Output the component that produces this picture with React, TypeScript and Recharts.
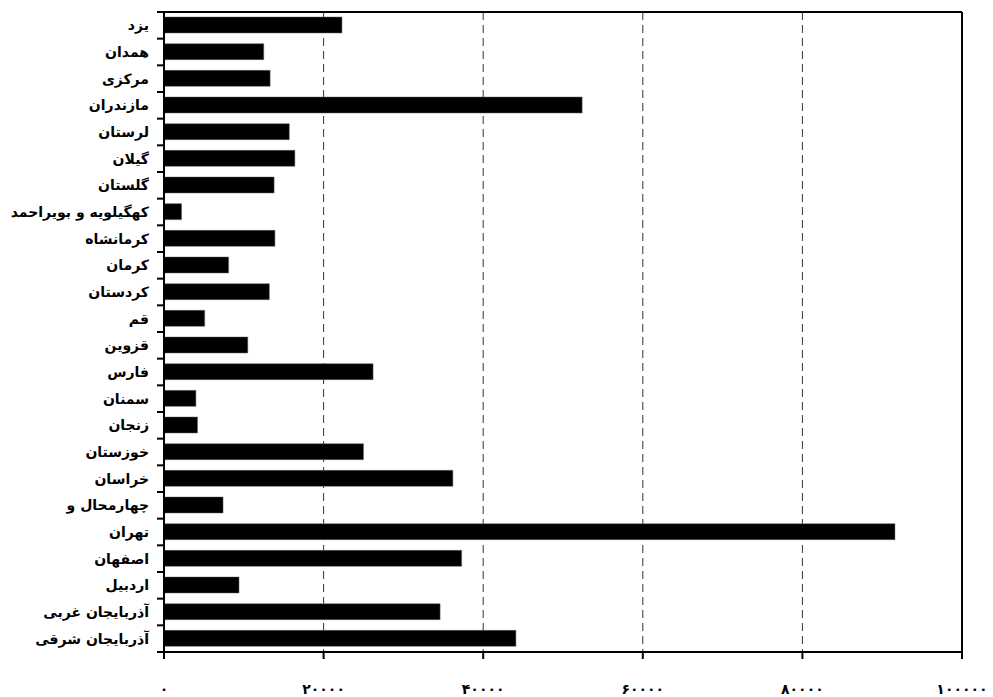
import { BarChart, Bar, XAxis, YAxis, CartesianGrid, ReferenceLine } from "recharts";

const PROVINCES = [
  "یزد", "همدان", "مرکزی", "مازندران", "لرستان", "گیلان", "گلستان",
  "کهگیلویه و بویراحمد", "کرمانشاه", "کرمان", "کردستان", "قم", "قزوین", "فارس",
  "سمنان", "زنجان", "خوزستان", "خراسان", "چهارمحال و", "تهران", "اصفهان",
  "اردبیل", "آذربایجان غربی", "آذربایجان شرقی",
];

const VALUES = [
  22300, 12500, 13300, 52400, 15700, 16400, 13800,
  2200, 13900, 8100, 13200, 5100, 10500, 26200,
  4000, 4200, 25000, 36200, 7400, 91600, 37300,
  9400, 34600, 44100,
];

const X_TICKS = [0, 20000, 40000, 60000, 80000, 100000];
const X_TICK_LABELS = ["۰", "۲۰۰۰۰", "۴۰۰۰۰", "۶۰۰۰۰", "۸۰۰۰۰", "۱۰۰۰۰۰"];

const data = PROVINCES.map((name, i) => ({ name, value: VALUES[i] }));

const W = 993;
const H = 697;
const M = { top: 10, right: 31, left: 0, bottom: 0 };
const TOP_AXIS_H = 2;
const Y_AXIS_W = 164;
const X_AXIS_H = 45;
const BAND = (H - M.top - TOP_AXIS_H - M.bottom - X_AXIS_H) / PROVINCES.length;
const FONT = "'DejaVu Sans', sans-serif";

// category ticks sit on the band boundaries, labels on the band centre
const YTick = (props: any) => {
  const { x, y, payload, index } = props;
  const half = BAND / 2;
  return (
    <g>
      <line x1={x - 7} x2={x} y1={y - half} y2={y - half} stroke="#000" strokeWidth={2} />
      {index === PROVINCES.length - 1 && (
        <line x1={x - 7} x2={x} y1={y + half} y2={y + half} stroke="#000" strokeWidth={2} />
      )}
      <text x={x - 15} y={y} dy={5} textAnchor="end" fontFamily={FONT} fontWeight="bold" fontSize={14} fill="#000">
        {payload.value}
      </text>
    </g>
  );
};

const XTick = (props: any) => {
  const { x, y, payload } = props;
  const i = X_TICKS.indexOf(payload.value);
  return (
    <text x={x} y={y} dy={35} textAnchor="middle" fontFamily={FONT} fontWeight="bold" fontSize={14} fill="#000">
      {X_TICK_LABELS[i]}
    </text>
  );
};

export default function App() {
  return (
    <div style={{ position: "absolute", left: 0, top: 0, width: W, height: H, background: "#fff" }}>
      <BarChart width={W} height={H} data={data} layout="vertical" margin={M} barSize={16}>
        <CartesianGrid vertical horizontal={false} stroke="#333" strokeDasharray="8 5" />
        <XAxis
          type="number"
          dataKey="value"
          domain={[0, 100000]}
          ticks={X_TICKS}
          interval={0}
          height={X_AXIS_H}
          axisLine={{ stroke: "#000", strokeWidth: 2 }}
          tickLine={{ stroke: "#000", strokeWidth: 2 }}
          tickSize={7}
          tickMargin={0}
          tick={<XTick />}
        />
        <XAxis
          xAxisId="top"
          orientation="top"
          type="number"
          domain={[0, 100000]}
          height={TOP_AXIS_H}
          tick={false}
          tickLine={false}
          axisLine={{ stroke: "#000", strokeWidth: 2 }}
        />
        <YAxis
          type="category"
          dataKey="name"
          width={Y_AXIS_W}
          interval={0}
          axisLine={{ stroke: "#000", strokeWidth: 2 }}
          tickLine={false}
          tickSize={0}
          tickMargin={0}
          tick={<YTick />}
        />
        <ReferenceLine x={100000} stroke="#000" strokeWidth={2} />
        <Bar dataKey="value" fill="#000" stroke="#666" strokeWidth={0.5} isAnimationActive={false} />
      </BarChart>
    </div>
  );
}
